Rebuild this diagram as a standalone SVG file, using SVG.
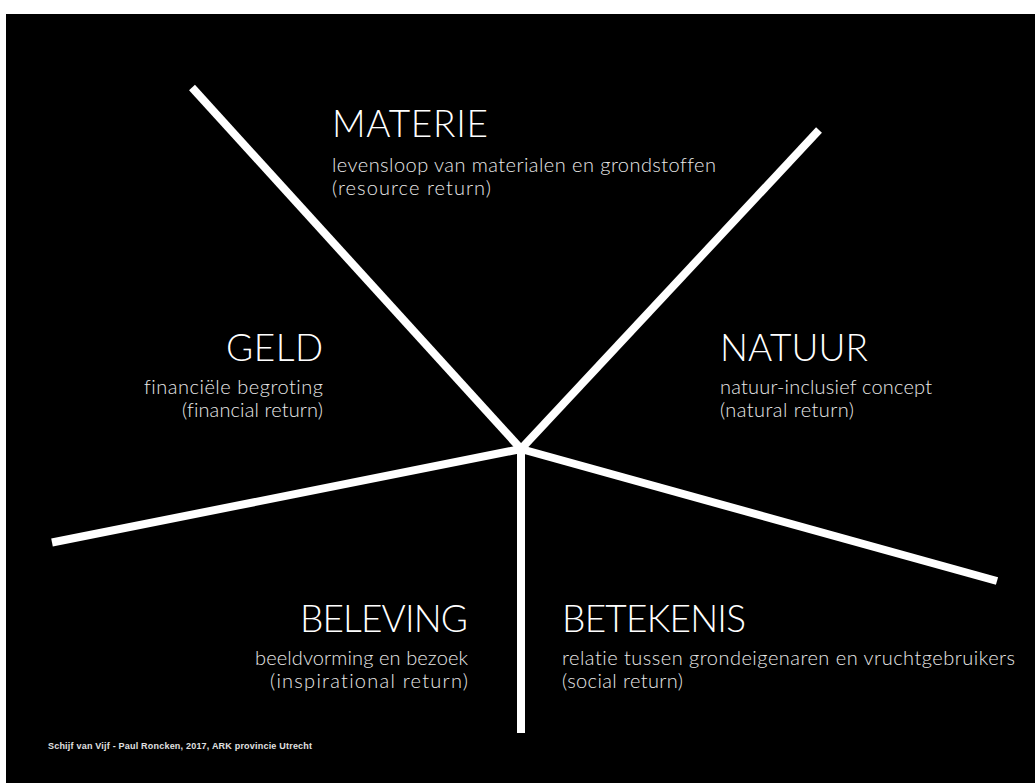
<svg xmlns="http://www.w3.org/2000/svg" width="1035" height="783" viewBox="0 0 1035 783">
<style>
.h{font-family:Lato,"Open Sans","Liberation Sans",sans-serif;font-weight:300;font-size:37px;fill:#ffffff}
.s{font-family:Lato,"Open Sans","Liberation Sans",sans-serif;font-weight:300;font-size:20px;fill:#e8e8e8;font-variant-ligatures:none;font-feature-settings:"liga" 0,"dlig" 0}
.r{text-anchor:end}
.f{font-family:"Liberation Sans",Arial,sans-serif;font-weight:bold;font-size:9px;fill:#e0e0e0}
.ln{stroke:#ffffff;stroke-width:8;stroke-linecap:butt;fill:none}
</style>
<rect x="0" y="0" width="1035" height="783" fill="#ffffff"/>
<rect x="6" y="14" width="1029" height="769" fill="#000000"/>
<g id="connectors">
<line class="ln" x1="192" y1="87.5" x2="521" y2="449"/>
<line class="ln" x1="819" y1="130" x2="521" y2="449"/>
<line class="ln" x1="52" y1="542.5" x2="521" y2="449"/>
<line class="ln" x1="997" y1="581" x2="521" y2="449"/>
<line class="ln" x1="521" y1="449" x2="521" y2="733"/>
</g>
<g id="materie">
<text class="h" x="332" y="137" textLength="156">MATERIE</text>
<text class="s" x="332" y="172" textLength="384">levensloop van materialen en grondstoffen</text>
<text class="s" x="332" y="195" textLength="159">(resource return)</text>
</g>
<g id="geld">
<text class="h r" x="323" y="361" textLength="97">GELD</text>
<text class="s r" x="323" y="394" textLength="179">financiële begroting</text>
<text class="s r" x="323" y="417" textLength="141">(financial return)</text>
</g>
<g id="natuur">
<text class="h" x="720" y="361" textLength="148">NATUUR</text>
<text class="s" x="720" y="394" textLength="212">natuur-inclusief concept</text>
<text class="s" x="720" y="417" textLength="134">(natural return)</text>
</g>
<g id="beleving">
<text class="h r" x="468" y="632" textLength="168">BELEVING</text>
<text class="s r" x="468" y="665" textLength="213">beeldvorming en bezoek</text>
<text class="s r" x="468" y="688" textLength="198">(inspirational return)</text>
</g>
<g id="betekenis">
<text class="h" x="562" y="632" textLength="184">BETEKENIS</text>
<text class="s" x="562" y="665" textLength="453">relatie tussen grondeigenaren en vruchtgebruikers</text>
<text class="s" x="562" y="688" textLength="121">(social return)</text>
</g>
<g id="footer">
<text class="f" x="48" y="749" textLength="264">Schijf van Vijf - Paul Roncken, 2017, ARK provincie Utrecht</text>
</g>
</svg>
